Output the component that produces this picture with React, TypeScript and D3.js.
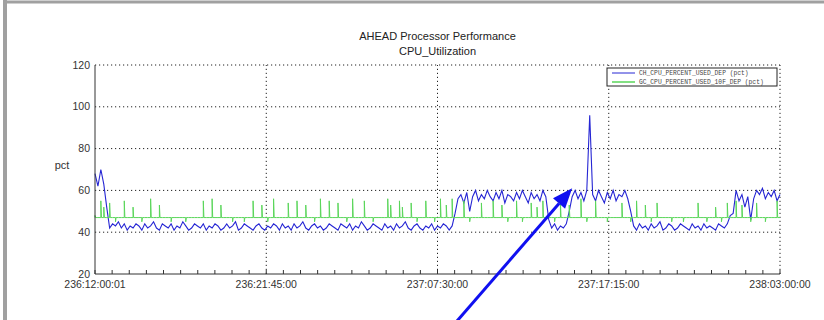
import React from "react";
import * as d3 from "d3";

const title = "AHEAD Processor Performance";
const subtitle = "CPU_Utilization";
const yLabel = "pct";
const seriesNames = ["CH_CPU_PERCENT_USED_DEP (pct)", "GC_CPU_PERCENT_USED_10F_DEP (pct)"];
const xTickMinutes = [0, 585, 1170, 1755, 2340];
const xTickLabels = ["236:12:00:01", "236:21:45:00", "237:07:30:00", "237:17:15:00", "238:03:00:00"];
const yTicks = [20, 40, 60, 80, 100, 120];
const sampleMinutes = 10;

const chCpu = [
  68, 62, 70, 63, 52,
  42, 44, 43, 45, 42, 44, 41, 43, 42, 44,
  43, 41, 44, 42, 43, 45, 42, 41, 44, 43,
  42, 44, 41, 43, 42, 45, 43, 41, 42, 44,
  43, 42, 44, 41, 43, 42, 44, 43, 41, 42,
  44, 42, 43, 45, 41, 42, 44, 43, 42, 41,
  43, 44, 42, 41, 43, 42, 44, 43, 41, 44,
  42, 43, 41, 44, 42, 43, 45, 42, 41, 43,
  44, 42, 43, 41, 42, 44, 43, 42, 41, 44,
  43, 42, 44, 41, 43, 42, 45, 43, 41, 42,
  44, 43, 42, 41, 44, 42, 43, 41, 44, 42,
  43, 45, 42, 41, 43, 44, 42, 41, 43, 42,
  44, 41, 43, 42, 44, 43, 41, 43,
  49, 56,
  58, 54, 59, 50, 57, 60, 55, 58, 56, 60,
  57, 55, 59, 56, 60, 54, 58, 57, 55, 59,
  56, 60, 57, 54, 59, 56, 58, 55, 60, 57,
  46,
  42, 44, 41, 43, 42, 44,
  50, 57,
  60, 56, 59, 55, 60, 96, 58, 55, 60, 57, 54, 59, 56, 60, 55, 58, 57, 60, 56,
  50,
  43, 41, 44, 42, 43, 41, 44, 42, 43, 45, 41, 42, 44, 43, 41, 42, 44, 43, 42, 41,
  44, 42, 43, 41, 44, 42, 43, 42, 41, 44, 43, 42, 44,
  48, 49,
  60, 55, 58, 52, 57, 46, 56, 60, 58, 61, 56, 59, 57, 60, 55, 58,
];

const gcBaseline = 47;
const gcCpu = [
  48, 47, 55, 52, 47, 54, 47, 45, 47, 47,
  55, 47, 47, 52, 47, 47, 45, 47, 47, 56,
  47, 47, 53, 47, 47, 47, 45, 47, 47, 47,
  47, 45, 47, 47, 47, 47, 47, 55, 47, 47,
  56, 47, 47, 53, 47, 47, 47, 45, 47, 47,
  47, 45, 47, 47, 55, 47, 47, 53, 47, 45,
  47, 56, 47, 47, 47, 47, 54, 47, 47, 55,
  47, 47, 53, 47, 47, 45, 47, 56, 47, 47,
  55, 47, 47, 54, 47, 47, 45, 47, 56, 47,
  47, 47, 55, 47, 47, 45, 47, 47, 47, 47,
  56, 53, 47, 47, 55, 52, 47, 47, 54, 47,
  45, 47, 47, 55, 47, 47, 45, 47, 56, 47,
  53, 47, 56, 47, 47, 47, 55, 47, 45, 47,
  47, 47, 54, 47, 47, 47, 55, 47, 47, 53,
  47, 45, 47, 47, 55, 47, 45, 47, 47, 54,
  47, 52, 47, 55, 47, 47, 47, 45, 47, 54,
  47, 47, 53, 47, 47, 47, 56, 47, 45, 47,
  47, 55, 47, 47, 47, 45, 47, 47, 47, 47,
  54, 47, 47, 45, 47, 55, 47, 47, 53, 47,
  45, 47, 54, 47, 47, 47, 47, 45, 47, 47,
  47, 45, 47, 47, 47, 47, 54, 47, 47, 45,
  47, 47, 52, 47, 45, 47, 54, 47, 47, 55,
  47, 53, 47, 47, 45, 47, 54, 47, 47, 45,
  47, 47, 47, 55, 47,
];

// annotation arrow target (sample index, value)
const arrowTarget = { index: 163, value: 61 };

const W = 824;
const H = 320;
const M = { left: 95, right: 44, top: 65, bottom: 46 };

export default function App() {
  const x = d3.scaleLinear().domain([0, 2340]).range([M.left, W - M.right]);
  const y = d3.scaleLinear().domain([20, 120]).range([H - M.bottom, M.top]);
  const lineLin = d3
    .line<number>()
    .x((_, i) => x(i * sampleMinutes))
    .y((d) => y(d));

  // green series: short-lived samples drawn as thin spikes off the baseline
  const gp = d3.path();
  gcCpu.forEach((v, i) => {
    const xi = x(i * sampleMinutes);
    if (i === 0) gp.moveTo(xi, y(gcBaseline));
    else gp.lineTo(xi, y(gcBaseline));
    if (v !== gcBaseline) {
      gp.lineTo(xi, y(v));
      gp.lineTo(xi + 0.6, y(gcBaseline));
    }
  });

  const minorTicks: number[] = [];
  for (let k = 0; k < xTickMinutes.length - 1; k++) {
    const a = xTickMinutes[k];
    const b = xTickMinutes[k + 1];
    for (let j = 1; j < 10; j++) minorTicks.push(a + ((b - a) * j) / 10);
  }
  const font = "'Liberation Sans', Arial, sans-serif";
  const x0 = M.left;
  const x1 = W - M.right;
  const y0 = H - M.bottom;
  const y1 = M.top;

  // arrow
  const tipX = x(arrowTarget.index * sampleMinutes);
  const tipY = y(arrowTarget.value);
  const startX = tipX - 118;
  const startY = tipY + 136;
  const ang = Math.atan2(tipY - startY, tipX - startX);
  const headLen = 20;
  const headW = 8;
  const bx = tipX - headLen * Math.cos(ang);
  const by = tipY - headLen * Math.sin(ang);
  const px = -Math.sin(ang);
  const py = Math.cos(ang);

  return (
    <svg
      width={W}
      height={H}
      style={{ position: "absolute", left: 0, top: 0, background: "#fff" }}
    >
      <rect x={0} y={0} width={W} height={H} fill="#fff" />
      {/* frame */}
      <line x1={5} y1={0} x2={5} y2={H} stroke="#a0a0a0" strokeWidth={4} />
      <line x1={3} y1={2} x2={W} y2={2} stroke="#a0a0a0" strokeWidth={3} />

      <text x={(x0 + x1) / 2} y={40} textAnchor="middle" fontFamily={font} fontSize={11} fill="#222">
        {title}
      </text>
      <text x={(x0 + x1) / 2} y={55} textAnchor="middle" fontFamily={font} fontSize={11} fill="#222">
        {subtitle}
      </text>

      {/* grid */}
      {yTicks.slice(1).map((t) => (
        <line key={"gy" + t} x1={x0} x2={x1} y1={y(t)} y2={y(t)} stroke="#222" strokeDasharray="1.2,2.8" />
      ))}
      {xTickMinutes.slice(1).map((t) => (
        <line key={"gx" + t} x1={x(t)} x2={x(t)} y1={y0} y2={y1} stroke="#222" strokeDasharray="1.2,2.8" />
      ))}

      {/* data */}
      <path d={lineLin(chCpu) || ""} fill="none" stroke="#2626d4" strokeWidth={1.1} />
      <path d={gp.toString()} fill="none" stroke="#5ad65a" strokeWidth={1} />

      {/* axes */}
      <line x1={x0} x2={x0} y1={y0} y2={y1} stroke="#333" />
      <line x1={x0} x2={x1} y1={y0} y2={y0} stroke="#333" />
      {[...minorTicks, ...xTickMinutes].map((t, i) => (
        <line key={"tk" + i} x1={x(t)} x2={x(t)} y1={y0} y2={y0 - 4} stroke="#333" />
      ))}
      {yTicks.map((t) => (
        <text key={"yl" + t} x={x0 - 5} y={y(t) + 3.5} textAnchor="end" fontFamily={font} fontSize={10.5} fill="#333">
          {t}
        </text>
      ))}
      {xTickMinutes.map((t, i) => (
        <text key={"xl" + t} x={x(t)} y={y0 + 14} textAnchor="middle" fontFamily={font} fontSize={10.5} fill="#333">
          {xTickLabels[i]}
        </text>
      ))}
      <text x={62} y={169} textAnchor="middle" fontFamily={font} fontSize={11} fill="#333">
        {yLabel}
      </text>

      {/* legend */}
      <rect x={607} y={68} width={170} height={18} fill="#fff" stroke="#222" strokeWidth={1} />
      <line x1={612} x2={635} y1={73} y2={73} stroke="#2626d4" />
      <line x1={612} x2={635} y1={82} y2={82} stroke="#5ad65a" strokeWidth={1.5} />
      <text x={639} y={75} fontFamily="'Liberation Mono', monospace" fontSize={6.3} fill="#444">
        {seriesNames[0]}
      </text>
      <text x={639} y={84} fontFamily="'Liberation Mono', monospace" fontSize={6.3} fill="#444">
        {seriesNames[1]}
      </text>

      {/* arrow */}
      <line x1={startX} y1={startY} x2={bx} y2={by} stroke="#1010f0" strokeWidth={3} />
      <polygon
        points={`${tipX},${tipY} ${bx + px * headW},${by + py * headW} ${bx - px * headW},${by - py * headW}`}
        fill="#1010f0"
      />
    </svg>
  );
}
